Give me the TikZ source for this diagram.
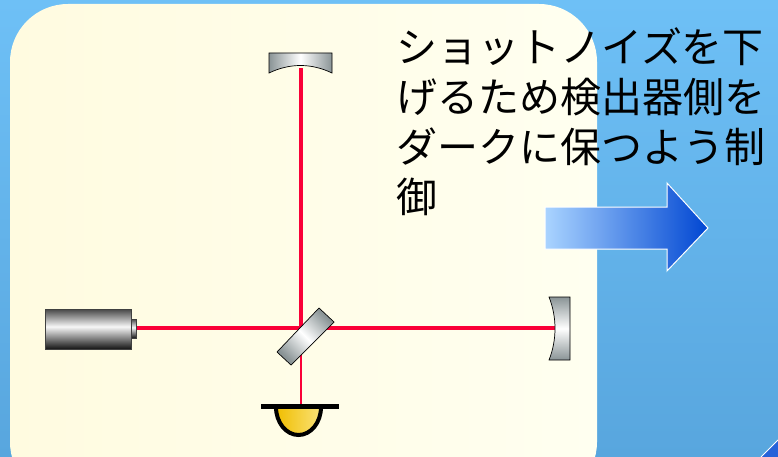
\documentclass[tikz,border=0pt]{standalone}
\usepackage{fontspec}
\setmainfont{Noto Sans CJK JP}

%colours
\definecolor{skytop}{RGB}{110,192,246}
\definecolor{skybot}{RGB}{88,166,222}
\definecolor{panelpale}{RGB}{255,255,240}
\definecolor{panelwarm}{RGB}{255,251,224}
\definecolor{beamred}{RGB}{250,0,55}
\definecolor{arrowlight}{RGB}{170,212,255}
\definecolor{arrowdark}{RGB}{0,70,210}
\definecolor{mirrorgray}{RGB}{138,148,150}
\definecolor{cupgold}{RGB}{240,190,0}
\definecolor{cuplight}{RGB}{250,226,120}

%laser tube: dark top and bottom, bright band a little above the middle
\pgfdeclareverticalshading{lasertube}{100bp}{
  color(0bp)=(black!92); color(25bp)=(black!92); color(53bp)=(black!3);
  color(75bp)=(black!72); color(100bp)=(black!72)}

\tikzset{
  beam/.style={draw=beamred,line width=4.8pt},
  thinbeam/.style={draw=beamred,line width=1.4pt},
  optic/.style={draw=black,line width=0.7pt},
}

\begin{document}
\begin{tikzpicture}[x=1pt,y={(0pt,-1pt)}]

\useasboundingbox (0,0) rectangle (778,457);

%Slide background and panel
\shade[top color=skytop,bottom color=skybot] (0,0) rectangle (778,457);
\begin{scope}
\clip (0,0) rectangle (778,457);
\shade[left color=panelwarm,right color=panelpale,rounded corners=58pt]
  (10,4) rectangle (597,500);
\end{scope}

%Arrow to the next slide
\fill[arrowdark!85!white] (761,457) -- (778,440) -- (778,457) -- cycle;
\draw[white,line width=1pt] (761,457) -- (778,440);

%Beam positions
\coordinate (laser) at (136,328);
\coordinate (bs) at (301,328);
\coordinate (mright) at (555,328);
\coordinate (mtop) at (301,68);
\coordinate (pd) at (301,405);

%Beams
\draw[beam] (laser) -- (mright);
\draw[beam] (bs) -- (mtop);
\draw[thinbeam] (bs) -- (pd);

%Laser
\shade[optic,draw=black!75,shading=lasertube] (45,309) rectangle (131,349);
\shade[optic,draw=black!75,shading=lasertube] (131,319) rectangle (136,338);

%Beam splitter
\shade[optic,top color=mirrorgray,bottom color=mirrorgray,middle color=white,shading angle=-45]
  (319,308) -- (334,322) -- (291,365) -- (277,352) -- cycle;

%End mirrors
\shade[optic,left color=mirrorgray,right color=mirrorgray,middle color=white]
  (269,53) -- (332,53) -- (332,73) .. controls (311,63) and (290,63) .. (269,73) -- cycle;
\shade[optic,top color=mirrorgray,bottom color=mirrorgray,middle color=white]
  (549,297) -- (570,297) -- (570,360) -- (549,360)
  .. controls (557,340) and (557,317) .. (549,297) -- cycle;

%Photo detector
\shade[left color=cupgold,middle color=yellow!6!white,right color=cuplight]
  (276,407) arc[start angle=180,end angle=0,x radius=22.5,y radius=28] -- cycle;
\draw[line width=4pt] (276,407) arc[start angle=180,end angle=0,x radius=22.5,y radius=28];
\draw[line width=5pt] (261,406) -- (339,406);

%Big arrow
\draw[white,line width=1pt,left color=arrowlight,right color=arrowdark]
  (545,207) -- (667,207) -- (667,183) -- (708,228) -- (667,271) -- (667,249) -- (545,249) -- cycle;

%Note
\node[anchor=base west,text width=385pt,align=left,inner sep=0pt,
      font=\fontsize{41}{50}\selectfont] (note) at (396,63)
  {ショットノイズを下\\げるため検出器側を\\ダークに保つよう制\\御};

\end{tikzpicture}
\end{document}
